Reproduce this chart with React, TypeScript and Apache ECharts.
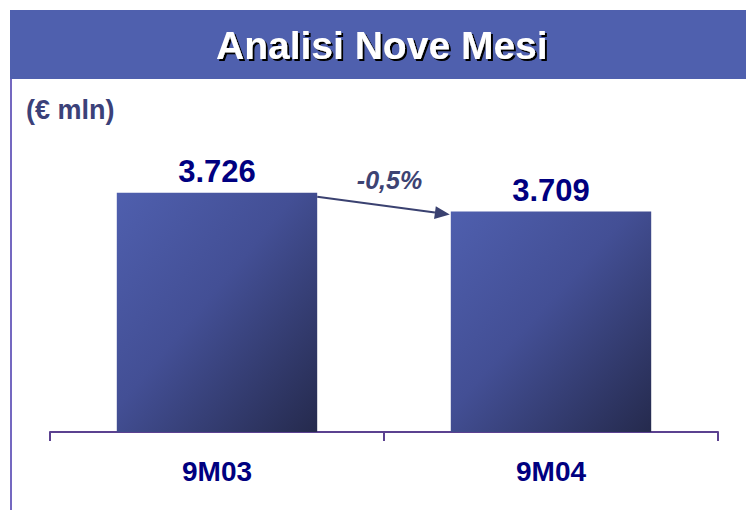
import React, { useEffect, useRef } from "react";
import * as echarts from "echarts";

const categories = ["9M03", "9M04"];
const values = [3726, 3709];
const valueLabels = ["3.726", "3.709"];
const changeLabel = "-0,5%";
const titleText = "Analisi Nove Mesi";
const unitText = "(€ mln)";

const FONT = "'Liberation Sans', Arial, sans-serif";

export default function App() {
  const ref = useRef<HTMLDivElement>(null);

  useEffect(() => {
    if (!ref.current) return;
    const chart = echarts.init(ref.current, null, { renderer: "svg" });
    const barGradient = new echarts.graphic.LinearGradient(0, 0, 1, 1, [
      { offset: 0, color: "#4f5fae" },
      { offset: 0.45, color: "#434f95" },
      { offset: 1, color: "#252a4d" },
    ]);
    chart.setOption({
      animation: false,
      title: {
        text: titleText,
        left: 216,
        top: 25,
        padding: 0,
        z: 20,
        textStyle: {
          color: "#ffffff",
          fontFamily: FONT,
          fontWeight: "bold",
          fontSize: 39,
          lineHeight: 40,
          textShadowColor: "#000000",
          textShadowBlur: 1,
          textShadowOffsetX: 2,
          textShadowOffsetY: 2,
        },
      },
      grid: { left: 50, right: 28, top: 144, bottom: 78 },
      xAxis: {
        type: "category",
        data: categories,
        boundaryGap: true,
        axisLine: { lineStyle: { color: "#5b4190", width: 2 } },
        axisTick: { show: true, length: 9, lineStyle: { color: "#5b4190", width: 2 } },
        axisLabel: {
          margin: 25,
          color: "#000080",
          fontFamily: FONT,
          fontWeight: "bold",
          fontSize: 28,
        },
      },
      yAxis: { type: "value", min: 3510, max: 3770, show: false, splitLine: { show: false } },
      series: [
        {
          type: "bar",
          data: values,
          barWidth: "60%",
          itemStyle: { color: barGradient },
          label: {
            show: true,
            position: "top",
            distance: 6,
            formatter: (p: any) => valueLabels[p.dataIndex],
            color: "#000080",
            fontFamily: FONT,
            fontWeight: "bold",
            fontSize: 31,
          },
        },
      ],
    });

    const p1 = chart.convertToPixel({ seriesIndex: 0 }, [0, values[0]]) as number[];
    const p2 = chart.convertToPixel({ seriesIndex: 0 }, [1, values[1]]) as number[];
    const half = (p2[0] - p1[0]) * 0.3;
    const sx = p1[0] + half;
    const sy = p1[1] + 4;
    const ex = p2[0] - half - 1;
    const ey = p2[1] + 3;
    const ang = Math.atan2(ey - sy, ex - sx);
    const hl = 15;
    const hw = 6.5;
    const bx = ex - hl * Math.cos(ang);
    const by = ey - hl * Math.sin(ang);
    const nx = -Math.sin(ang);
    const ny = Math.cos(ang);

    chart.setOption({
      graphic: [
        {
          type: "rect",
          shape: { x: 10, y: 10, width: 736, height: 69 },
          style: { fill: "#4f60ae" },
          z: 0,
        },
        {
          type: "line",
          shape: { x1: 11, y1: 79, x2: 11, y2: 510 },
          style: { stroke: "#7468c0", lineWidth: 2 },
          z: 10,
        },
        {
          type: "text",
          x: 26,
          y: 110,
          style: {
            text: unitText,
            fill: "#3b4179",
            font: `bold 27px ${FONT}`,
            align: "left",
            verticalAlign: "middle",
          },
          z: 11,
        },
        {
          type: "line",
          shape: { x1: sx, y1: sy, x2: bx, y2: by },
          style: { stroke: "#3a4170", lineWidth: 2 },
          z: 11,
        },
        {
          type: "polygon",
          shape: {
            points: [
              [ex, ey],
              [bx + nx * hw, by + ny * hw],
              [bx - nx * hw, by - ny * hw],
            ],
          },
          style: { fill: "#3a4170" },
          z: 11,
        },
        {
          type: "text",
          x: (sx + ex) / 2 + 6,
          y: (sy + ey) / 2 - 26,
          style: {
            text: changeLabel,
            fill: "#3d4373",
            font: `italic bold 25px ${FONT}`,
            align: "center",
            verticalAlign: "middle",
          },
          z: 11,
        },
      ],
    });

    return () => chart.dispose();
  }, []);

  return (
    <div
      ref={ref}
      style={{ position: "absolute", left: 0, top: 0, width: 746, height: 510, background: "#ffffff" }}
    />
  );
}
